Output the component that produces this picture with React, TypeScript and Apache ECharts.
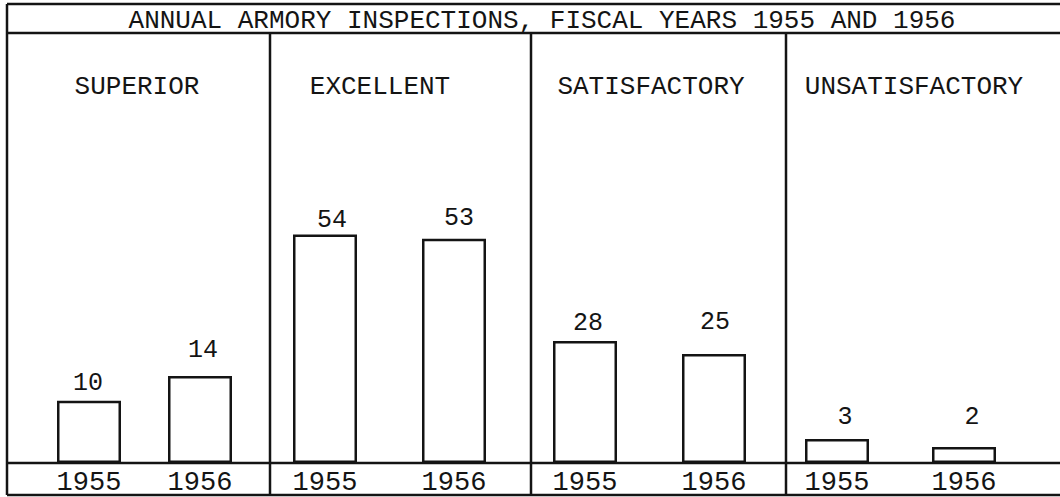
import React, { useEffect, useRef } from "react";
import * as echarts from "echarts";

// ---- data ----
const TITLE = "ANNUAL ARMORY INSPECTIONS, FISCAL YEARS 1955 AND 1956";
const CATEGORIES = ["SUPERIOR", "EXCELLENT", "SATISFACTORY", "UNSATISFACTORY"];
const YEARS = ["1955", "1956"];
const VALUES_1955 = [10, 54, 28, 3];
const VALUES_1956 = [14, 53, 25, 2];
// each panel in the original is drawn to its own (unequal) scale
const PANEL_SCALE_MAX = [68, 100, 97, 53];

// ---- layout / style ----
const W = 1060;
const H = 497;
const FONT = "'Liberation Mono', 'DejaVu Sans Mono', monospace";
const INK = "#141414";
const LINE_W = 2.5;
const TOP_Y = 4;
const HEAD_Y = 33;
const BASE_Y = 463;
const BOTTOM_Y = 495;
const LEFT_X = 7;
const DIVIDERS = [270, 531, 786];
const PANEL_GRIDS = [
  { left: 33.5, width: 222 },
  { left: 260.5, width: 258 },
  { left: 520.5, width: 258 },
  { left: 773.5, width: 254 },
];
const PANEL_CENTERS = [137, 380, 651, 914];
const LABEL_NUDGE = [
  [[-1, 2], [3, -6]],
  [[7, 5], [5, -1]],
  [[3, 2], [1, -12]],
  [[8, -2], [8, -10]],
];

export default function App() {
  const ref = useRef<HTMLDivElement>(null);

  useEffect(() => {
    if (!ref.current) return;
    const chart = echarts.init(ref.current, null, { renderer: "svg" });

    const grids = PANEL_GRIDS.map((g) => ({
      left: g.left,
      width: g.width,
      top: 40,
      height: BASE_Y - 40,
      containLabel: false,
    }));

    const xAxes = PANEL_GRIDS.map((_, i) => ({
      type: "category",
      gridIndex: i,
      data: YEARS,
      axisLine: { show: false },
      axisTick: { show: false },
      splitLine: { show: false },
      axisLabel: {
        show: true,
        margin: 6,
        color: INK,
        fontFamily: FONT,
        fontSize: 27,
      },
    }));

    const yAxes = PANEL_SCALE_MAX.map((mx, i) => ({
      type: "value",
      gridIndex: i,
      min: 0,
      max: mx,
      show: false,
      splitLine: { show: false },
    }));

    const series = CATEGORIES.map((_, i) => ({
      type: "bar",
      xAxisIndex: i,
      yAxisIndex: i,
      barWidth: 64,
      itemStyle: { color: "#ffffff", borderColor: INK, borderWidth: LINE_W },
      label: {
        show: true,
        position: "top",
        distance: 7,
        color: INK,
        fontFamily: FONT,
        fontSize: 25,
      },
      data: [VALUES_1955[i], VALUES_1956[i]].map((v, j) => ({
        value: v,
        label: { offset: LABEL_NUDGE[i][j] },
      })),
    }));

    const hLine = (y: number) => ({
      type: "line",
      shape: { x1: LEFT_X, y1: y, x2: W, y2: y },
      style: { stroke: INK, lineWidth: LINE_W },
      z: 10,
    });
    const vLine = (x: number, y1: number, y2: number) => ({
      type: "line",
      shape: { x1: x, y1, x2: x, y2 },
      style: { stroke: INK, lineWidth: LINE_W },
      z: 10,
    });

    const graphic: any[] = [
      hLine(TOP_Y),
      hLine(HEAD_Y),
      hLine(BASE_Y),
      hLine(BOTTOM_Y),
      vLine(LEFT_X, TOP_Y, BOTTOM_Y),
      ...DIVIDERS.map((x) => vLine(x, HEAD_Y, BOTTOM_Y)),
      {
        type: "text",
        x: 542,
        y: 21,
        style: {
          text: TITLE,
          fill: INK,
          font: `26px ${FONT}`,
          align: "center",
          verticalAlign: "middle",
        },
        z: 11,
      },
      ...CATEGORIES.map((c, i) => ({
        type: "text",
        x: PANEL_CENTERS[i],
        y: 87,
        style: {
          text: c,
          fill: INK,
          font: `26px ${FONT}`,
          align: "center",
          verticalAlign: "middle",
        },
        z: 11,
      })),
    ];

    chart.setOption({
      animation: false,
      backgroundColor: "#ffffff",
      grid: grids,
      xAxis: xAxes,
      yAxis: yAxes,
      series,
      graphic,
    } as any);

    return () => chart.dispose();
  }, []);

  return (
    <div
      ref={ref}
      style={{ position: "absolute", left: 0, top: 0, width: W, height: H }}
    />
  );
}
